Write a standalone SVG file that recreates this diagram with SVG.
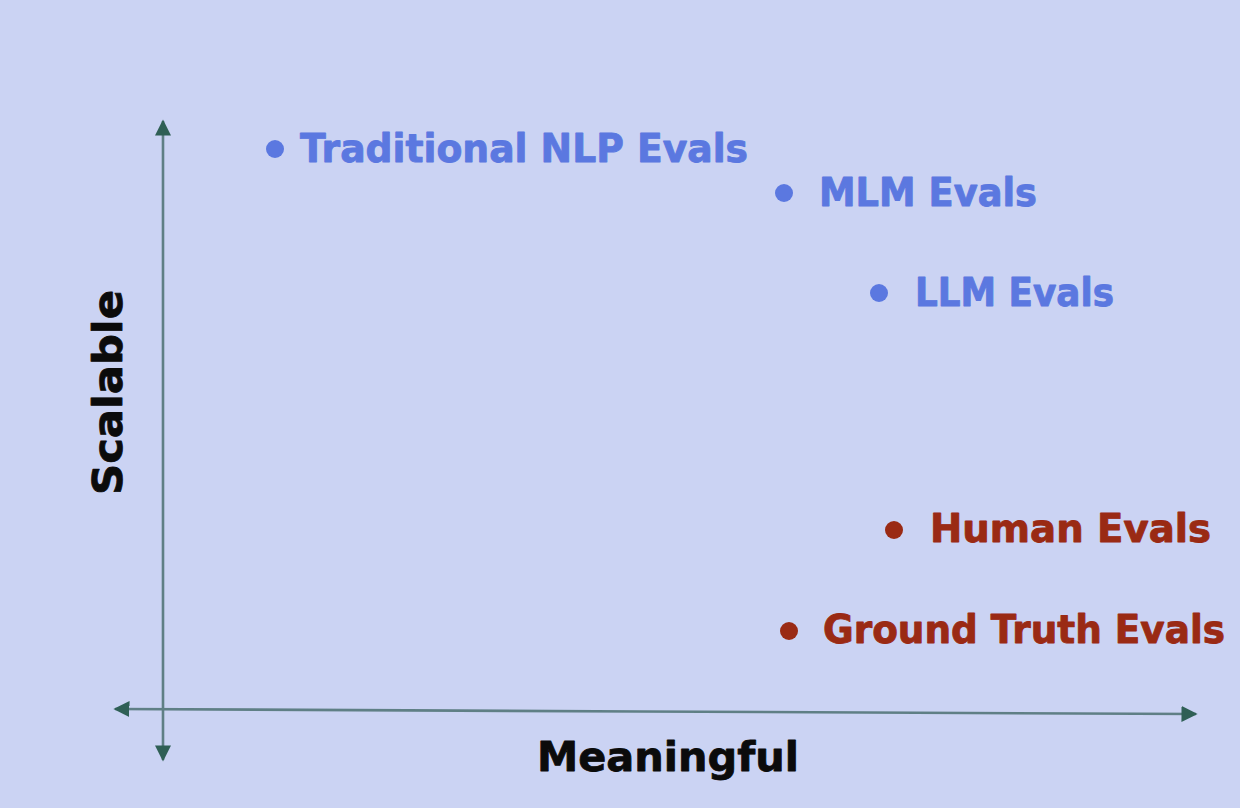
<svg xmlns="http://www.w3.org/2000/svg" width="1240" height="808" viewBox="0 0 1240 808">
  <defs>
    <marker id="arrow" viewBox="0 0 10 10" refX="9" refY="5" markerWidth="6.2" markerHeight="6.2" markerUnits="strokeWidth" orient="auto">
      <path d="M0,0 L10,5 L0,10 z" fill="#2f5f55"/>
    </marker>
    <style>
      .axis { stroke: #5f7f85; stroke-width: 2.6; fill: none; }
      .lbl { font-family: "DejaVu Sans", "Open Sans", sans-serif; font-weight: 700; font-size: 39px; stroke-width: 0.9; stroke-linejoin: round; }
      .blue { fill: #5b78e0; stroke: #5b78e0; }
      .red { fill: #9a2a14; stroke: #9a2a14; }
      circle.blue, circle.red { stroke: none; }
      .axis-title { font-family: "DejaVu Sans", "Open Sans", sans-serif; font-weight: 700; font-size: 41px; fill: #0b0b0b; stroke: #0b0b0b; stroke-width: 0.8; stroke-linejoin: round; }
    </style>
  </defs>

  <rect width="1240" height="808" fill="#cbd3f3"/>

  <!-- axes -->
  <g id="connectors">
    <line class="axis" x1="163" y1="430" x2="163" y2="121" marker-end="url(#arrow)"/>
    <line class="axis" x1="163" y1="430" x2="163" y2="760" marker-end="url(#arrow)"/>
    <line class="axis" x1="640" y1="711.5" x2="115" y2="709" marker-end="url(#arrow)"/>
    <line class="axis" x1="640" y1="711.5" x2="1196" y2="714" marker-end="url(#arrow)"/>
  </g>

  <!-- axis titles -->
  <g id="axis-x">
    <text class="axis-title" x="537" y="771" textLength="262" lengthAdjust="spacingAndGlyphs">Meaningful</text>
  </g>
  <g id="axis-y">
    <text class="axis-title" transform="translate(122,495) rotate(-90)" x="0" y="0" textLength="205" lengthAdjust="spacingAndGlyphs">Scalable</text>
  </g>

  <!-- data points -->
  <g id="traditional-nlp">
    <circle class="blue" cx="275" cy="149" r="9"/>
    <text class="lbl blue" x="300" y="162" textLength="448" lengthAdjust="spacingAndGlyphs">Traditional NLP Evals</text>
  </g>
  <g id="mlm">
    <circle class="blue" cx="784" cy="193" r="9"/>
    <text class="lbl blue" x="819" y="206" textLength="218" lengthAdjust="spacingAndGlyphs">MLM Evals</text>
  </g>
  <g id="llm">
    <circle class="blue" cx="879" cy="293" r="9"/>
    <text class="lbl blue" x="915" y="306" textLength="199" lengthAdjust="spacingAndGlyphs">LLM Evals</text>
  </g>
  <g id="human">
    <circle class="red" cx="894" cy="530" r="9"/>
    <text class="lbl red" x="930" y="542" textLength="281" lengthAdjust="spacingAndGlyphs">Human Evals</text>
  </g>
  <g id="ground-truth">
    <circle class="red" cx="789" cy="631" r="9"/>
    <text class="lbl red" x="823" y="643" textLength="402" lengthAdjust="spacingAndGlyphs">Ground Truth Evals</text>
  </g>
</svg>
